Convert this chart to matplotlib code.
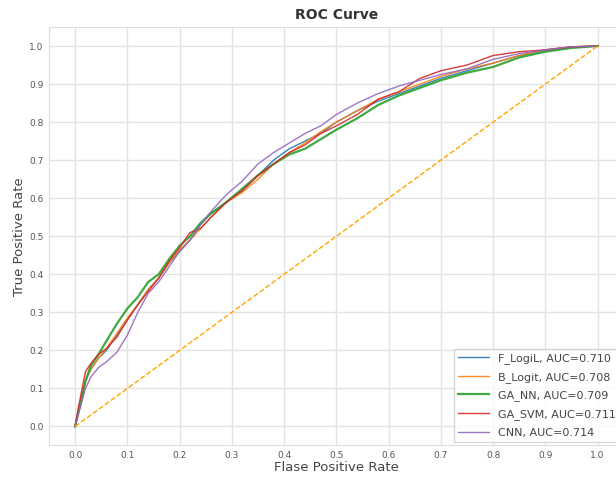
import matplotlib
matplotlib.use('Agg')
import matplotlib.pyplot as plt
import numpy as np

# false positive rate grid
fpr = [0, .005, .012, .02, .03, .045, .06, .08, .10, .12, .14, .16, .18, .20,
       .22, .24, .26, .29, .32, .35, .38, .41, .44, .47, .50, .54, .58, .62,
       .66, .70, .75, .80, .85, .90, .95, 1.0]

tpr_flogit = [0, .03, .07, .12, .15, .18, .20, .24, .28, .32, .36, .39, .43, .46,
              .49, .53, .56, .59, .62, .66, .70, .73, .75, .77, .80, .83, .855, .875,
              .895, .915, .935, .955, .975, .988, .997, 1.0]
tpr_blogit = [0, .035, .075, .12, .15, .18, .205, .245, .285, .32, .36, .39, .43, .465,
              .49, .52, .55, .59, .615, .65, .69, .72, .745, .775, .80, .83, .86, .88,
              .90, .92, .94, .955, .975, .99, .998, 1.0]
tpr_gann = [0, .03, .07, .12, .16, .19, .225, .27, .31, .34, .38, .40, .44, .475,
            .50, .535, .56, .59, .625, .66, .69, .715, .73, .755, .78, .81, .845, .87,
            .89, .91, .93, .945, .97, .985, .995, 1.0]
tpr_gasvm = [0, .04, .09, .145, .165, .19, .205, .235, .28, .32, .355, .39, .435, .47,
             .51, .52, .55, .59, .62, .66, .69, .72, .74, .77, .79, .82, .86, .88,
             .915, .935, .95, .975, .985, .99, .998, 1.0]
tpr_cnn = [0, .025, .06, .10, .13, .155, .17, .195, .24, .30, .35, .38, .42, .46,
           .49, .53, .565, .61, .645, .69, .72, .745, .77, .79, .82, .85, .875, .895,
           .91, .925, .94, .965, .98, .99, .998, 1.0]

labels = ['F_LogiL, AUC=0.710', 'B_Logit, AUC=0.708', 'GA_NN, AUC=0.709',
          'GA_SVM, AUC=0.711', 'CNN, AUC=0.714']
colors = ['#1f77b4', '#ff7f0e', '#2ca02c', '#d62728', '#9467bd']
widths = [1.0, 1.0, 1.6, 1.0, 1.0]

ticks = np.round(np.arange(0, 1.01, 0.1), 1)

fig = plt.figure(figsize=(6.16, 4.78), dpi=100)
ax = fig.add_axes([0.0795, 0.068, 0.933, 0.8755])

for tpr, lab, c, w in zip([tpr_flogit, tpr_blogit, tpr_gann, tpr_gasvm, tpr_cnn],
                          labels, colors, widths):
    ax.plot(fpr, tpr, color=c, lw=w, label=lab, alpha=0.9)

ax.plot([0, 1], [0, 1], color='orange', ls='--', lw=1)

ax.set_xlim(-0.05, 1.05)
ax.set_ylim(-0.05, 1.05)
ax.set_xticks(ticks)
ax.set_yticks(ticks)
ax.tick_params(labelsize=6.5, labelcolor='#555555', length=0, pad=4)
ax.grid(True, color='#e3e3e3', lw=1)
ax.set_axisbelow(True)
for s in ax.spines.values():
    s.set_color('#dddddd')

ax.set_title('ROC Curve', fontsize=10, fontweight='bold', color='#333333')
ax.set_xlabel('Flase Positive Rate', fontsize=9.5, color='#444444', labelpad=1)
ax.set_ylabel('True Positive Rate', fontsize=9.5, color='#444444', labelpad=2)

ax.legend(loc='lower right', fontsize=8, frameon=True, edgecolor='#cccccc',
          fancybox=False, labelcolor='#444444', handlelength=2.8,
          borderaxespad=0.3, labelspacing=0.7)

fig.savefig('out.png', dpi=100)
